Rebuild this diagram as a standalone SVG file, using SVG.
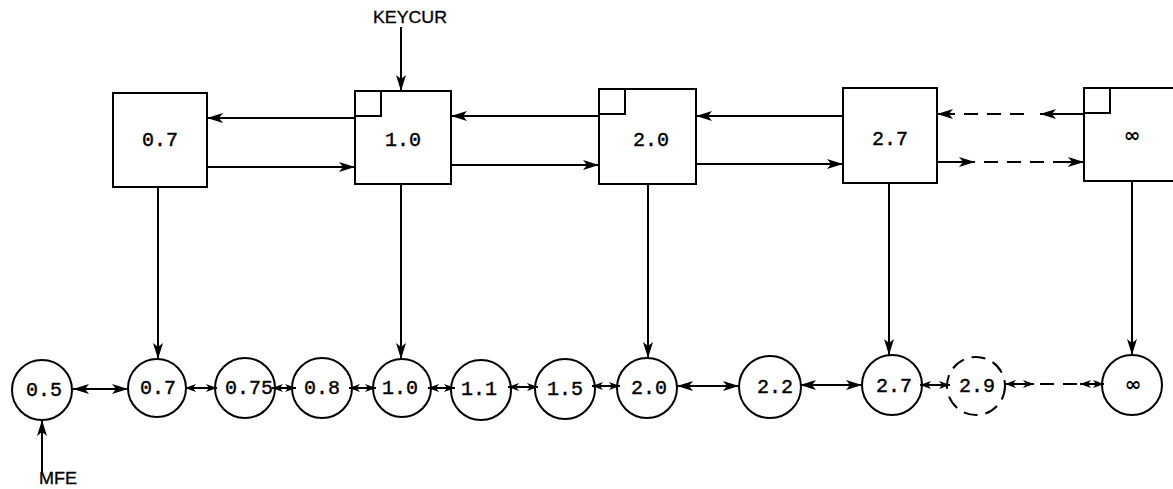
<svg xmlns="http://www.w3.org/2000/svg" width="1173" height="489" viewBox="0 0 1173 489">
<style>
.box{fill:#fff;stroke:#000;stroke-width:2}
.cir{fill:#fff;stroke:#000;stroke-width:2}
.dcir{fill:#fff;stroke:#000;stroke-width:2;stroke-dasharray:14 8}
.ln{fill:none;stroke:#000;stroke-width:2}
.dl{fill:none;stroke:#000;stroke-width:2;stroke-dasharray:14 9}
.t{font-family:"Liberation Mono","DejaVu Sans Mono",monospace;font-size:20px;text-anchor:middle;fill:#000;stroke:#000;stroke-width:0.4}
.inf{font-family:"DejaVu Sans",sans-serif;font-size:20px;font-weight:bold;text-anchor:middle;fill:#000}
.lbl{font-family:"Liberation Sans",Arial,sans-serif;font-size:16px;fill:#000;stroke:#000;stroke-width:0.3}
</style>
<defs>
<marker id="ah" viewBox="0 0 16 10" refX="16" refY="5" markerWidth="16" markerHeight="10" markerUnits="userSpaceOnUse" orient="auto-start-reverse">
<path d="M0,0 L16,5 L0,10 L4,5 z" fill="#000"/>
</marker>
<marker id="as" viewBox="0 0 11 8" refX="11" refY="4" markerWidth="11" markerHeight="8" markerUnits="userSpaceOnUse" orient="auto-start-reverse">
<path d="M0,0 L11,4 L0,8 L3,4 z" fill="#000"/>
</marker>
</defs>

<g id="label-keycur"><text class="lbl" x="373" y="23" textLength="74" lengthAdjust="spacingAndGlyphs">KEYCUR</text></g>
<g id="label-mfe"><text class="lbl" x="39" y="484" textLength="38" lengthAdjust="spacingAndGlyphs">MFE</text></g>

<g id="box-0.7"><rect class="box" x="113" y="93" width="94" height="94"/><text class="t" x="160" y="146">0.7</text></g>
<g id="box-1.0"><rect class="box" x="355" y="91" width="96" height="93"/><path class="ln" d="M355,116 H381 V91"/><text class="t" x="403" y="146">1.0</text></g>
<g id="box-2.0"><rect class="box" x="599" y="89" width="97" height="95"/><path class="ln" d="M599,114 H625 V89"/><text class="t" x="651" y="146">2.0</text></g>
<g id="box-2.7"><rect class="box" x="843" y="88" width="94" height="95"/><text class="t" x="890" y="145">2.7</text></g>
<g id="box-inf"><rect class="box" x="1084" y="88" width="100" height="93"/><path class="ln" d="M1084,113 H1110 V88"/><text class="inf" x="1132" y="142">∞</text></g>

<g id="c-0.5"><circle class="cir" cx="42" cy="390" r="30"/><text class="t" x="44" y="396">0.5</text></g>
<g id="c-0.7"><circle class="cir" cx="157" cy="388" r="29"/><text class="t" x="158" y="394">0.7</text></g>
<g id="c-0.75"><circle class="cir" cx="245" cy="388" r="30"/><text class="t" x="249" y="394">0.75</text></g>
<g id="c-0.8"><circle class="cir" cx="322" cy="388" r="30"/><text class="t" x="322" y="394">0.8</text></g>
<g id="c-1.0"><circle class="cir" cx="402" cy="388" r="29"/><text class="t" x="400" y="394">1.0</text></g>
<g id="c-1.1"><circle class="cir" cx="481" cy="390" r="30"/><text class="t" x="479" y="395">1.1</text></g>
<g id="c-1.5"><circle class="cir" cx="565" cy="389" r="30"/><text class="t" x="565" y="395">1.5</text></g>
<g id="c-2.0"><circle class="cir" cx="647" cy="388" r="30"/><text class="t" x="649" y="394">2.0</text></g>
<g id="c-2.2"><circle class="cir" cx="770" cy="387" r="31"/><text class="t" x="775" y="393">2.2</text></g>
<g id="c-2.7"><circle class="cir" cx="892" cy="385" r="30"/><text class="t" x="894" y="392">2.7</text></g>
<g id="c-2.9"><circle class="dcir" cx="976" cy="386" r="29"/><text class="t" x="977" y="392">2.9</text></g>
<g id="c-inf"><circle class="cir" cx="1132" cy="385" r="30"/><text class="inf" x="1133" y="391">∞</text></g>

<g id="connectors">
<line class="ln" x1="401" y1="27" x2="401" y2="91" marker-end="url(#ah)"/>
<line class="ln" x1="42" y1="472" x2="42" y2="420" marker-end="url(#ah)"/>
<line class="ln" x1="355" y1="118" x2="207" y2="118" marker-end="url(#ah)"/>
<line class="ln" x1="207" y1="167" x2="355" y2="167" marker-end="url(#ah)"/>
<line class="ln" x1="599" y1="116" x2="451" y2="116" marker-end="url(#ah)"/>
<line class="ln" x1="451" y1="165" x2="599" y2="165" marker-end="url(#ah)"/>
<line class="ln" x1="843" y1="116" x2="696" y2="116" marker-end="url(#ah)"/>
<line class="ln" x1="696" y1="164" x2="843" y2="164" marker-end="url(#ah)"/>
<line class="ln" x1="1084" y1="114" x2="1040" y2="114" marker-end="url(#ah)"/>
<line class="dl" x1="1024" y1="114" x2="953" y2="114"/>
<line class="ln" x1="953" y1="114" x2="937" y2="114" marker-end="url(#ah)"/>
<line class="ln" x1="937" y1="162" x2="975" y2="162" marker-end="url(#ah)"/>
<line class="dl" x1="984" y1="162" x2="1068" y2="162"/>
<line class="ln" x1="1066" y1="162" x2="1084" y2="162" marker-end="url(#ah)"/>
<line class="ln" x1="158" y1="187" x2="158" y2="359" marker-end="url(#ah)"/>
<line class="ln" x1="401" y1="184" x2="401" y2="359" marker-end="url(#ah)"/>
<line class="ln" x1="648" y1="184" x2="648" y2="358" marker-end="url(#ah)"/>
<line class="ln" x1="889" y1="183" x2="889" y2="355" marker-end="url(#ah)"/>
<line class="ln" x1="1132" y1="181" x2="1132" y2="355" marker-end="url(#ah)"/>
<line class="ln" x1="73" y1="389" x2="128" y2="389" marker-start="url(#ah)" marker-end="url(#ah)"/>
<line class="ln" x1="185" y1="388" x2="217" y2="388" marker-start="url(#as)" marker-end="url(#as)"/>
<line class="ln" x1="272" y1="388" x2="296" y2="388" marker-start="url(#as)" marker-end="url(#as)"/>
<line class="ln" x1="349" y1="388" x2="376" y2="388" marker-start="url(#as)" marker-end="url(#as)"/>
<line class="ln" x1="428" y1="388" x2="455" y2="388" marker-start="url(#as)" marker-end="url(#as)"/>
<line class="ln" x1="508" y1="387" x2="538" y2="387" marker-start="url(#as)" marker-end="url(#as)"/>
<line class="ln" x1="592" y1="386" x2="620" y2="386" marker-start="url(#as)" marker-end="url(#as)"/>
<line class="ln" x1="677" y1="386" x2="739" y2="386" marker-start="url(#ah)" marker-end="url(#ah)"/>
<line class="ln" x1="800" y1="385" x2="862" y2="385" marker-start="url(#ah)" marker-end="url(#ah)"/>
<line class="ln" x1="920" y1="385" x2="950" y2="385" marker-start="url(#as)" marker-end="url(#as)"/>
<line class="ln" x1="1005" y1="384" x2="1034" y2="384" marker-start="url(#as)" marker-end="url(#as)"/>
<line class="dl" x1="1040" y1="384" x2="1080" y2="384"/>
<line class="ln" x1="1080" y1="384" x2="1104" y2="384" marker-start="url(#as)" marker-end="url(#as)"/>
</g>
</svg>
